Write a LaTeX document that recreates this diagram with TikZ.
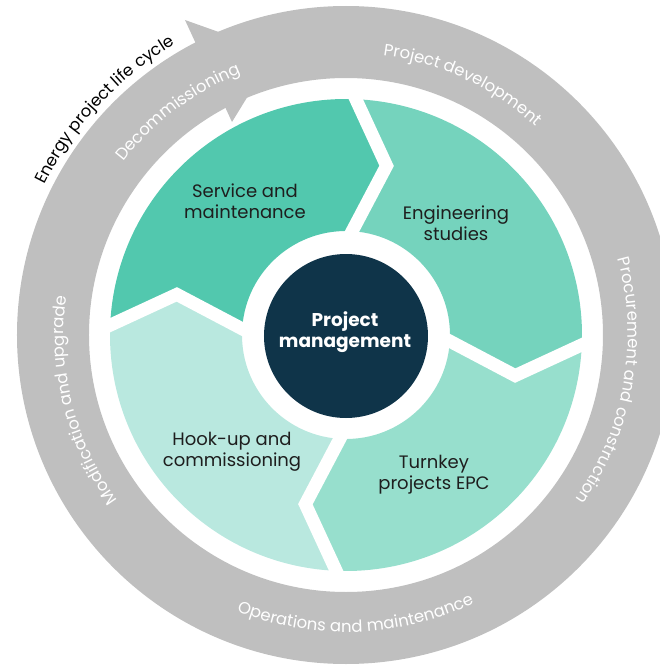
\documentclass[tikz,border=0pt]{standalone}
\usepackage{fontspec}
\setmainfont{Poppins}
\usetikzlibrary{decorations.text}

\definecolor{ringgray}{HTML}{BFBFBF}
\definecolor{servicegreen}{HTML}{52C8AE}
\definecolor{enggreen}{HTML}{75D3BD}
\definecolor{turnkeygreen}{HTML}{97DFCD}
\definecolor{hookupgreen}{HTML}{B9E8DF}
\definecolor{pmblue}{HTML}{0F3449}
\definecolor{labelblack}{HTML}{1E1E1E}

\newcommand{\ringfont}{\fontsize{16.5}{19}\selectfont}
\newcommand{\segfont}{\fontsize{18}{21}\selectfont}
\newcommand{\pmfont}{\fontsize{18.5}{21.5}\selectfont\bfseries}

\tikzset{
  ringtext/.style={decorate, decoration={text along path, text align=center,
      text color=white, text={|\ringfont|#1}}},
  cycletext/.style={decorate, decoration={text along path, text align=center,
      text color=black, text={|\ringfont|#1}}},
  seglabel/.style={align=center, text=labelblack, font=\segfont, inner sep=0pt},
  pmlabel/.style={align=center, text=white, font=\pmfont, inner sep=0pt},
  gapline/.style={white, line width=13pt, line join=miter}
}

\begin{document}
\begin{tikzpicture}[x=1pt,y=1pt]
  \clip (-346,-330) rectangle (314,335);

  % life cycle ring with its arrow head
  \fill[ringgray,even odd rule] (0,0) circle[radius=329pt] (0,0) circle[radius=257pt];
  \fill[ringgray] (-161,315) -- (-71,283) -- (-114,213) -- cycle;

  % phases written round the ring
  \path[ringtext=Decommissioning] (167:282pt) arc[start angle=167, end angle=87, radius=282pt];
  \path[ringtext=Project development] (110:282pt) arc[start angle=110, end angle=20, radius=282pt];
  \path[ringtext=Procurement and construction] (35:282pt) arc[start angle=35, end angle=-55, radius=282pt];
  \path[ringtext=Operations and maintenance] (227:297pt) arc[start angle=227, end angle=317, radius=297pt];
  \path[ringtext=Modification and upgrade] (239:282pt) arc[start angle=239, end angle=149, radius=282pt];
  \path[cycletext=Energy project life cycle] (182:337pt) arc[start angle=182, end angle=92, radius=337pt];

  % four service segments, chevron ends pointing clockwise
  \foreach \b/\col in {178.8/servicegreen, 88.8/enggreen, -1.2/turnkeygreen, -91.2/hookupgreen}{
    \fill[\col] ({\b}:104pt) -- ({\b-12.3}:174pt) -- ({\b}:236pt)
      arc[start angle=\b, end angle=\b-90, radius=236pt]
      -- ({\b-102.3}:174pt) -- ({\b-90}:104pt)
      arc[start angle=\b-90, end angle=\b, radius=104pt] -- cycle;
  }
  \foreach \b in {178.8, 88.8, -1.2, -91.2}{
    \draw[gapline] ({\b}:96pt) -- ({\b-12.3}:174pt) -- ({\b}:246pt);
  }

  % project management hub
  \fill[pmblue] (0,-1) circle[radius=82pt];

  \node[seglabel] (service) at (-101,134) {Service and\\maintenance};
  \node[seglabel] (engineering) at (110,112) {Engineering\\studies};
  \node[seglabel] (turnkey) at (88,-140) {Turnkey\\projects EPC};
  \node[seglabel] (hookup) at (-114,-117) {Hook-up and\\commissioning};
  \node[pmlabel] (pm) at (-1,3) {Project\\management};
\end{tikzpicture}
\end{document}
